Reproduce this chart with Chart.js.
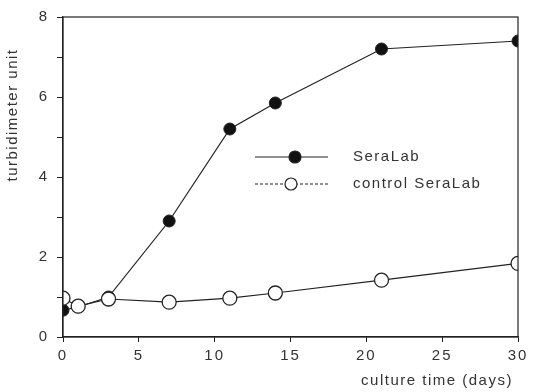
<!DOCTYPE html>
<html>
<head>
<meta charset="utf-8">
<script src="https://cdn.jsdelivr.net/npm/chart.js@4/dist/chart.umd.min.js"></script>
<style>
html,body{margin:0;padding:0;background:#fff;}
#wrap{width:535px;height:392px;}
</style>
</head>
<body>
<div id="wrap"><canvas id="c" width="535" height="392"></canvas></div>
<script>
const days = [0, 1, 3, 7, 11, 14, 21, 30];
const seraLab = [0.67, 0.75, 1.0, 2.9, 5.2, 5.85, 7.2, 7.4];
const controlSeraLab = [0.97, 0.77, 0.95, 0.87, 0.97, 1.1, 1.42, 1.84];
const xTicks = [0, 5, 10, 15, 20, 25, 30];
const yTicks = [0, 2, 4, 6, 8];
const seriesNames = ['SeraLab', 'control SeraLab'];
const xTitle = 'culture time (days)';
const yTitle = 'turbidimeter unit';

const FONT = '"Liberation Sans", "DejaVu Sans", sans-serif';

const spacing = {
  id: 'spacing',
  beforeDraw(chart) { chart.ctx.letterSpacing = '2px'; }
};

const decor = {
  id: 'decor',
  afterDraw(chart) {
    const {ctx, chartArea: a} = chart;
    ctx.save();
    ctx.strokeStyle = '#222';
    ctx.lineWidth = 1.2;
    ctx.strokeRect(a.left, a.top, a.right - a.left, a.bottom - a.top);
    // axis titles
    ctx.fillStyle = '#333';
    ctx.letterSpacing = '1.5px';
    ctx.font = '15px ' + FONT;
    ctx.textAlign = 'center';
    ctx.textBaseline = 'middle';
    ctx.fillText(xTitle, 437, 381);
    ctx.save();
    ctx.translate(13, 115);
    ctx.rotate(-Math.PI / 2);
    ctx.fillText(yTitle, 0, 0);
    ctx.restore();
    // legend
    const rows = [
      {y: 157, fill: '#111', dash: []},
      {y: 184, fill: '#fff', dash: [3, 2]}
    ];
    rows.forEach((r, i) => {
      ctx.strokeStyle = '#222';
      ctx.lineWidth = 1.2;
      ctx.setLineDash(r.dash);
      ctx.beginPath();
      ctx.moveTo(255, r.y);
      ctx.lineTo(328, r.y);
      ctx.stroke();
      ctx.setLineDash([]);
      ctx.beginPath();
      ctx.arc(i === 0 ? 295 : 291, r.y, 6, 0, Math.PI * 2);
      ctx.fillStyle = r.fill;
      ctx.fill();
      ctx.stroke();
      ctx.fillStyle = '#333';
      ctx.textAlign = 'left';
      ctx.fillText(seriesNames[i], 353, r.y);
    });
    ctx.restore();
  }
};

new Chart(document.getElementById('c'), {
  type: 'line',
  data: {
    datasets: [
      {
        label: seriesNames[0],
        data: days.map((d, i) => ({x: d, y: seraLab[i]})),
        order: 1,
        borderColor: '#222',
        borderWidth: 1.2,
        pointRadius: 6,
        pointBackgroundColor: '#111',
        pointBorderColor: '#222',
        pointBorderWidth: 1,
        tension: 0
      },
      {
        label: seriesNames[1],
        data: days.map((d, i) => ({x: d, y: controlSeraLab[i]})),
        order: 0,
        borderColor: '#222',
        borderWidth: 1.2,
        pointRadius: 7,
        pointBackgroundColor: '#fff',
        pointBorderColor: '#222',
        pointBorderWidth: 1.3,
        tension: 0
      }
    ]
  },
  options: {
    responsive: false,
    animation: false,
    devicePixelRatio: 1,
    layout: {padding: {top: 15, right: 17, left: 0, bottom: 0}},
    plugins: {legend: {display: false}, tooltip: {enabled: false}},
    scales: {
      x: {
        type: 'linear',
        min: 0, max: 30,
        afterBuildTicks(s) { s.ticks = xTicks.map(v => ({value: v})); },
        afterFit(s) { s.height = 55; },
        grid: {drawOnChartArea: false, drawTicks: true, tickLength: 5, color: '#222'},
        border: {color: '#222', width: 1.2},
        ticks: {color: '#333', font: {family: FONT, size: 15}, padding: 5, maxRotation: 0}
      },
      y: {
        min: 0, max: 8,
        afterBuildTicks(s) { s.ticks = [0,1,2,3,4,5,6,7,8].map(v => ({value: v})); },
        afterFit(s) { s.width = 63; },
        grid: {drawOnChartArea: false, drawTicks: true, tickLength: 6, color: '#222'},
        border: {color: '#222', width: 1.2},
        ticks: {
          color: '#333', font: {family: FONT, size: 15}, padding: 8,
          callback: v => yTicks.includes(v) ? String(v) : ''
        }
      }
    }
  },
  plugins: [spacing, decor]
});
</script>
</body>
</html>
